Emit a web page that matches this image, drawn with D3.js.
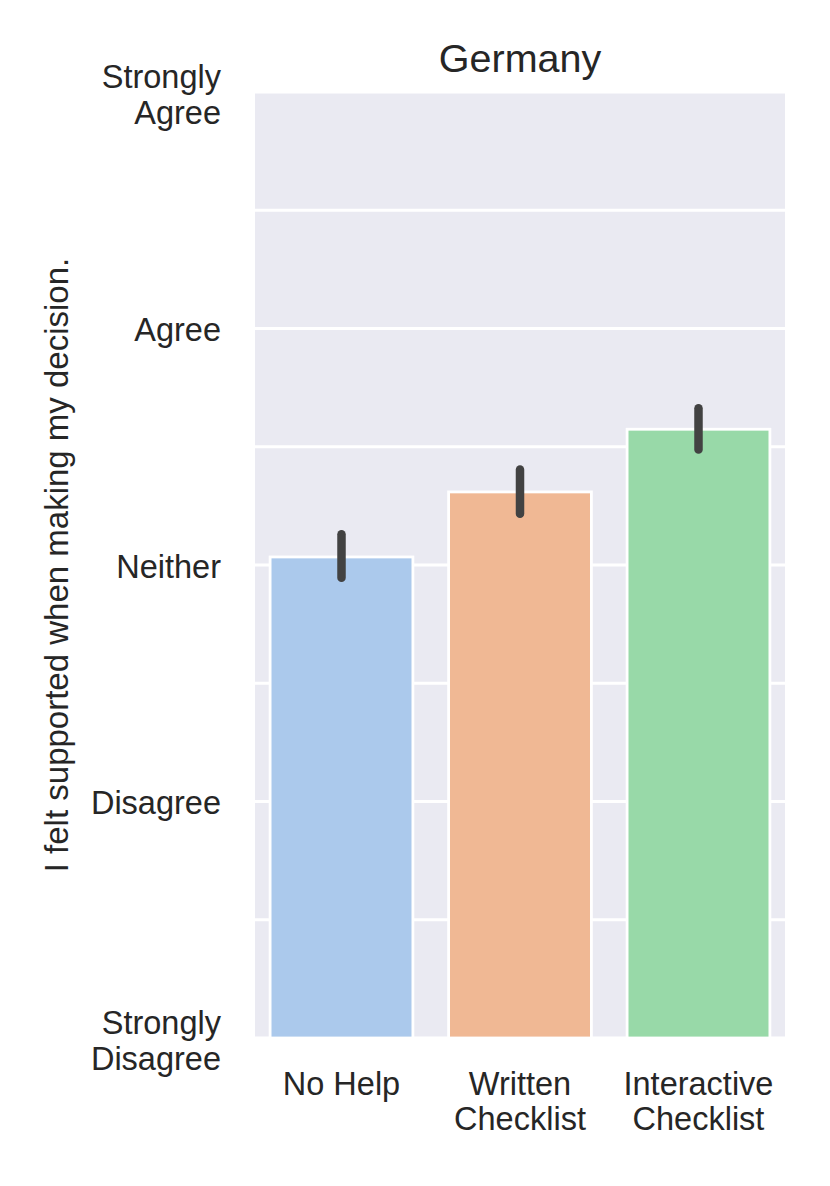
<!DOCTYPE html>
<html>
<head>
<meta charset="utf-8">
<script src="https://cdn.jsdelivr.net/npm/d3@7"></script>
<style>
  html, body { margin: 0; padding: 0; background: #ffffff; }
  svg { display: block; }
  text { font-family: "Liberation Sans", Arial, sans-serif; fill: #262626; }
</style>
</head>
<body>
<div id="chart"></div>
<script>
// ---- data ----
const title = "Germany";
const yLabel = "I felt supported when making my decision.";
const categories = ["No Help", "Written Checklist", "Interactive Checklist"];
const categoryLines = [["No Help"], ["Written", "Checklist"], ["Interactive", "Checklist"]];
const means = [3.034, 3.309, 3.574];
const ciLow = [2.946, 3.217, 3.488];
const ciHigh = [3.130, 3.404, 3.663];
const barColors = ["#abc9ec", "#f0b894", "#98d9a8"];
const yTickValues = [1, 2, 3, 4, 5];
const yTickLabels = [["Strongly", "Disagree"], ["Disagree"], ["Neither"], ["Agree"], ["Strongly", "Agree"]];
const gridValues = [1, 1.5, 2, 2.5, 3, 3.5, 4, 4.5, 5];

// ---- layout ----
const W = 830, H = 1186;
const plot = { left: 255, right: 785, top: 92, bottom: 1038 };

const svg = d3.select("#chart").append("svg")
  .attr("width", W).attr("height", H);

const x = d3.scaleBand()
  .domain(categories)
  .range([plot.left, plot.right])
  .paddingInner(0.2)
  .paddingOuter(0.0846);

const y = d3.scaleLinear()
  .domain([1, 5])
  .range([plot.bottom, plot.top]);

// background
svg.append("rect")
  .attr("x", plot.left).attr("y", plot.top)
  .attr("width", plot.right - plot.left)
  .attr("height", plot.bottom - plot.top)
  .attr("fill", "#eaeaf2");

// grid
svg.append("g").selectAll("line").data(gridValues).join("line")
  .attr("x1", plot.left).attr("x2", plot.right)
  .attr("y1", d => y(d)).attr("y2", d => y(d))
  .attr("stroke", "#ffffff").attr("stroke-width", 2.8);

// bars
svg.append("g").selectAll("rect").data(categories).join("rect")
  .attr("x", d => x(d))
  .attr("width", x.bandwidth())
  .attr("y", (d, i) => y(means[i]))
  .attr("height", (d, i) => y(1) - y(means[i]))
  .attr("fill", (d, i) => barColors[i])
  .attr("stroke", "#ffffff").attr("stroke-width", 2.8);

// error bars
svg.append("g").selectAll("line").data(categories).join("line")
  .attr("x1", d => x(d) + x.bandwidth() / 2)
  .attr("x2", d => x(d) + x.bandwidth() / 2)
  .attr("y1", (d, i) => y(ciLow[i]))
  .attr("y2", (d, i) => y(ciHigh[i]))
  .attr("stroke", "#424242").attr("stroke-width", 8.5)
  .attr("stroke-linecap", "round");

// y tick labels
const yTicks = svg.append("g").selectAll("text").data(yTickValues).join("text")
  .attr("text-anchor", "end")
  .attr("font-size", 32.5)
  .attr("x", 221)
  .attr("y", d => y(d));
yTicks.each(function(d, i) {
  const lines = yTickLabels[i];
  const t = d3.select(this);
  const y0 = lines.length === 1 ? y(d) + 12.5 : y(d) - 4;
  lines.forEach((ln, k) => {
    t.append("tspan").attr("x", 221).attr("y", y0 + k * 35.5).text(ln);
  });
});

// x tick labels
const xTicks = svg.append("g").selectAll("text").data(categories).join("text")
  .attr("text-anchor", "middle")
  .attr("font-size", 32.5);
xTicks.each(function(d, i) {
  const t = d3.select(this);
  const cx = x(d) + x.bandwidth() / 2;
  categoryLines[i].forEach((ln, k) => {
    t.append("tspan").attr("x", cx).attr("y", 1095 + k * 35).text(ln);
  });
});

// title
svg.append("text")
  .attr("x", (plot.left + plot.right) / 2)
  .attr("y", 72)
  .attr("text-anchor", "middle")
  .attr("font-size", 39.5)
  .text(title);

// y label
svg.append("text")
  .attr("transform", `translate(68, ${(plot.top + plot.bottom) / 2}) rotate(-90)`)
  .attr("text-anchor", "middle")
  .attr("font-size", 33)
  .text(yLabel);
</script>
</body>
</html>
